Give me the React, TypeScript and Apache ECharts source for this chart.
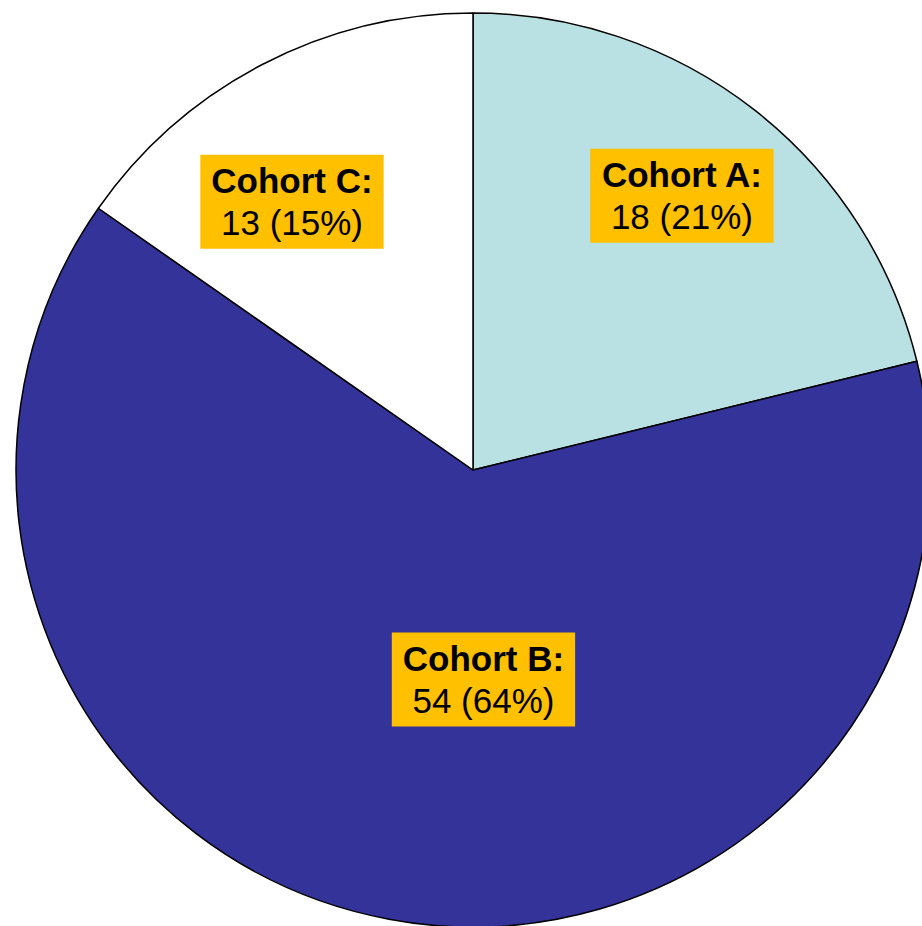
import React, { useEffect, useRef } from "react";
import * as echarts from "echarts";

const categories = ["Cohort A", "Cohort B", "Cohort C"];
const counts = [18, 54, 13];
const sliceColors = ["#B9E0E3", "#333399", "#FFFFFF"];
// label nudges from the default inside position, in px
const labelOffsets = [
  [66, -92],
  [53, -18],
  [-74, -63],
];

export default function App() {
  const ref = useRef<HTMLDivElement>(null);

  useEffect(() => {
    if (!ref.current) return;
    const chart = echarts.init(ref.current, null, { renderer: "svg" });
    const fontFamily = "'Liberation Sans', Arial, sans-serif";
    chart.setOption({
      animation: false,
      series: [
        {
          type: "pie",
          center: [473, 470],
          radius: 457,
          startAngle: 90,
          clockwise: true,
          avoidLabelOverlap: false,
          emphasis: { disabled: true },
          itemStyle: { borderColor: "#000000", borderWidth: 1.5 },
          label: {
            show: true,
            position: "inside",
            backgroundColor: "#FFC000",
            padding: [5, 11],
            formatter: (p: any) =>
              `{a|${p.name}:}\n{b|${p.value} (${Math.round(p.percent)}%)}`,
            rich: {
              a: {
                fontFamily,
                fontSize: 35,
                fontWeight: "bold",
                color: "#000",
                lineHeight: 42,
                align: "center",
              },
              b: {
                fontFamily,
                fontSize: 35,
                color: "#000",
                lineHeight: 42,
                align: "center",
              },
            },
          },
          labelLine: { show: false },
          data: categories.map((name, i) => ({
            name,
            value: counts[i],
            itemStyle: { color: sliceColors[i] },
            label: { offset: labelOffsets[i] },
          })),
        },
      ],
    });
    return () => chart.dispose();
  }, []);

  return (
    <div
      ref={ref}
      style={{ position: "absolute", left: 0, top: 0, width: 922, height: 926 }}
    />
  );
}
